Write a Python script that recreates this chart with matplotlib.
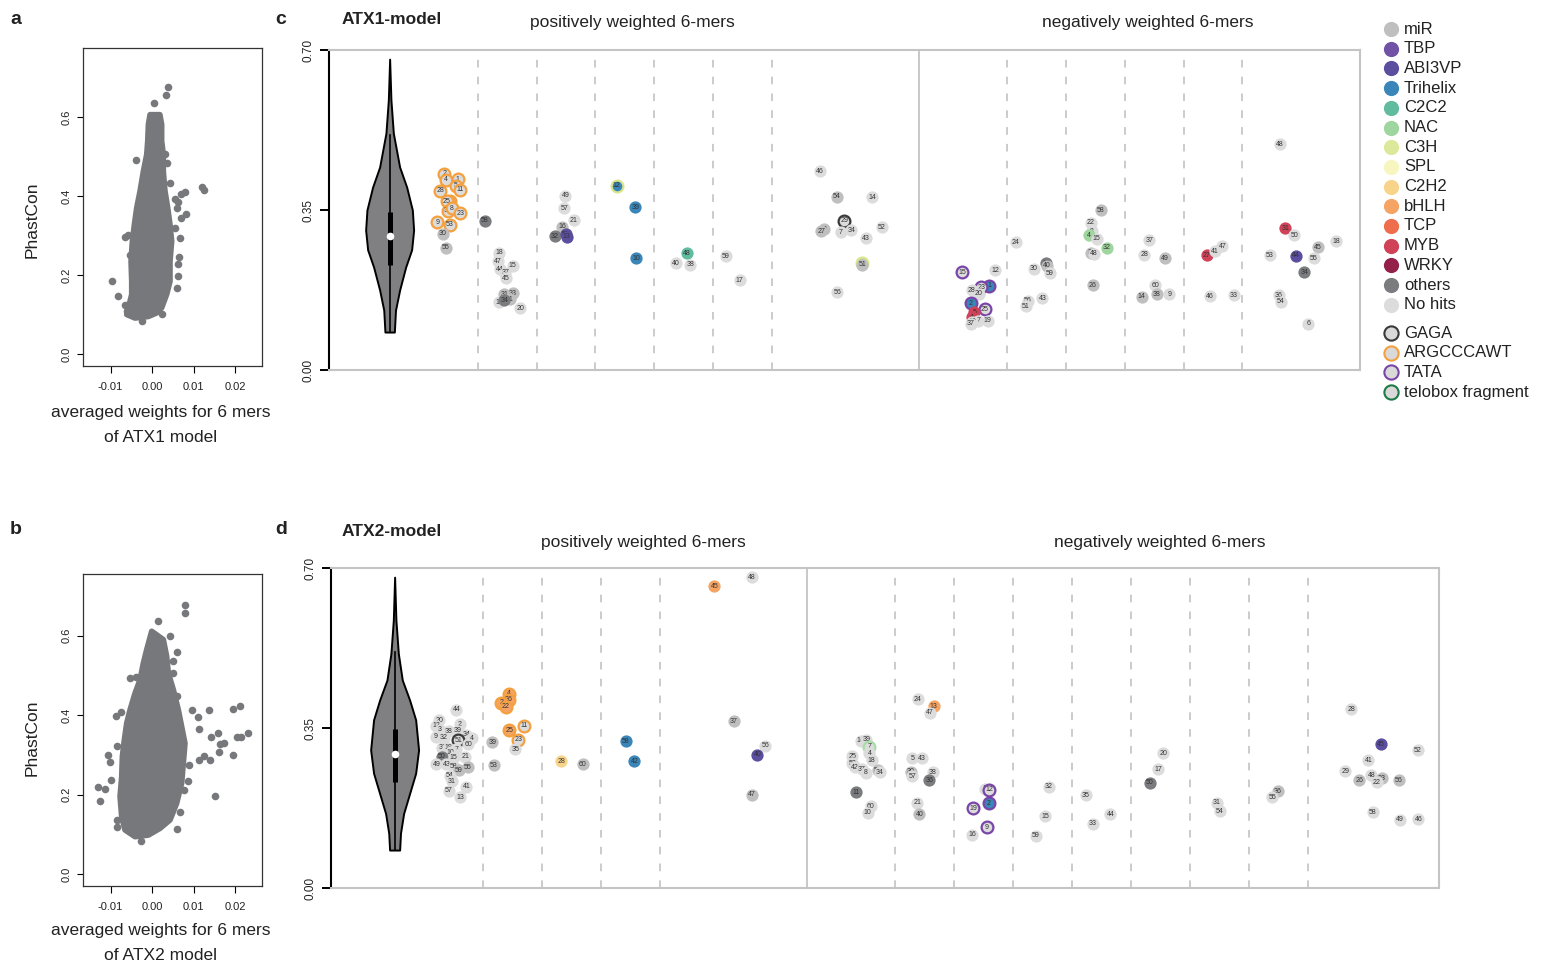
import matplotlib
matplotlib.use("Agg")
import matplotlib.pyplot as plt

plt.rcParams["font.family"] = ["Liberation Sans", "DejaVu Sans"]

W, H = 1541, 968
TXT = "#222222"
DOT = "#77787B"

# ---------------- panels a / b : weight vs PhastCon
# dense core outline (weight, phastcon) read off the cloud, plus the outlying 6-mers
a_core_w = [-0.00048, -0.00088, -0.00104, -0.00128, -0.00209, -0.00289, -0.00369, -0.00426,
            -0.00474, -0.00506, -0.0049, -0.0049, -0.0057, -0.0061, -0.0041, -0.00088,
            0.00112, 0.00233, 0.00353, 0.00434, 0.00434, 0.00474, 0.00434, 0.00378,
            0.00313, 0.00273, 0.00273, 0.00233, 0.00233, 0.0019]
a_core_p = [0.607, 0.582, 0.540, 0.506, 0.463, 0.413, 0.371, 0.328,
            0.286, 0.235, 0.184, 0.151, 0.117, 0.100, 0.091, 0.095,
            0.104, 0.117, 0.151, 0.184, 0.235, 0.286, 0.328, 0.371,
            0.413, 0.463, 0.506, 0.540, 0.582, 0.607]
a_out_w = [0.00378, 0.00329, 0.00056, -0.00394, 0.01197, 0.01261, 0.00795, 0.00699, 0.00554,
           0.00635, 0.00594, 0.00811, 0.00699, 0.00554, 0.00675, -0.00651, -0.00586, -0.00956,
           -0.00827, -0.00651, -0.00249, 0.00249, 0.00594, 0.00618, 0.00635, 0.00659, 0.00434,
           0.00353, 0.00313, -0.0053, -0.0061]
a_out_p = [0.678, 0.656, 0.637, 0.493, 0.423, 0.415, 0.411, 0.406, 0.392,
           0.385, 0.371, 0.354, 0.345, 0.320, 0.294, 0.296, 0.303, 0.184,
           0.148, 0.125, 0.083, 0.102, 0.168, 0.197, 0.227, 0.245, 0.434,
           0.485, 0.506, 0.252, 0.108]

b_core_w = [-0.00008, -0.00128, -0.00209, -0.00289, -0.0041, -0.0053, -0.0061, -0.00667,
            -0.00715, -0.00731, -0.00771, -0.00731, -0.00651, -0.0041, -0.00088, 0.00193,
            0.00434, 0.00594, 0.00715, 0.00755, 0.00795, 0.00715, 0.00635, 0.00514,
            0.00394, 0.00353, 0.00273]
b_core_p = [0.611, 0.565, 0.531, 0.489, 0.455, 0.413, 0.380, 0.338,
            0.296, 0.245, 0.195, 0.144, 0.111, 0.094, 0.098, 0.115,
            0.136, 0.178, 0.229, 0.279, 0.329, 0.371, 0.413, 0.464,
            0.506, 0.548, 0.590]
b_out_w = [0.00795, 0.00795, 0.00137, 0.00434, 0.00594, 0.00514, 0.00514, -0.0053, -0.00394,
           -0.00747, -0.00876, 0.00972, 0.0110, 0.01382, 0.01944, 0.0212, 0.00594, 0.0114,
           0.01422, 0.01582, 0.01639, 0.01743, 0.0204, 0.02145, 0.02305, 0.01622, 0.01944,
           0.01261, 0.01398, 0.01133, 0.0090, 0.01518, -0.01068, -0.01012, -0.00851, -0.01293,
           -0.01133, -0.01245, -0.00988, -0.00851, -0.00851, -0.00265, 0.00594, 0.00675,
           0.00876, 0.00779]
b_out_p = [0.678, 0.657, 0.636, 0.598, 0.560, 0.535, 0.506, 0.493, 0.495,
           0.409, 0.397, 0.412, 0.394, 0.412, 0.416, 0.424, 0.447, 0.365,
           0.346, 0.355, 0.328, 0.329, 0.346, 0.345, 0.356, 0.306, 0.300,
           0.297, 0.287, 0.286, 0.275, 0.197, 0.300, 0.281, 0.321, 0.218,
           0.213, 0.185, 0.237, 0.136, 0.118, 0.084, 0.114, 0.157,
           0.233, 0.212]

# ---------------- categories
cat_names = ["miR", "TBP", "ABI3VP", "Trihelix", "C2C2", "NAC", "C3H", "SPL",
             "C2H2", "bHLH", "TCP", "MYB", "WRKY", "others", "No hits"]
cat_colors = ["#BFBFBF", "#7152A5", "#5B4E9F", "#3A86B8", "#61BB9F", "#9FD59F",
              "#DCE99A", "#F7F6BF", "#F7D48A", "#F5A463", "#EE6D4C", "#CF4258",
              "#93204A", "#7B7C7F", "#DCDCDC"]
ring_names = ["GAGA", "ARGCCCAWT", "TATA", "telobox fragment"]
ring_colors = ["#3A3A3A", "#F4A03E", "#7A45A8", "#1E7B45"]

fill_of = dict(zip(cat_names, cat_colors))
fill_of["no"] = fill_of["No hits"]
fill_of["oth"] = fill_of["others"]
edge_of = {"G": ring_colors[0], "A": ring_colors[1], "T": ring_colors[2],
           "L": ring_colors[3], "C": "#D8E58A", "N": "#A8DDA8"}

# ---------------- panel c (ATX1 model)
c_num = [2, 4, 1, 5, 11, 28, 26, 25, 36, 8, 23, 9, 53, 30, 55,
         58, 18, 47, 15, 44, 37, 45, 31, 33, 41, 19, 34, 20,
         49, 57, 21, 16, 32, 59, 13,
         12, 39, 10,
         48, 40, 38,
         59, 17,
         46, 54, 14, 29, 42, 27, 7, 34, 52, 43, 35, 51, 56,
         15, 12, 1, 23, 28, 20, 2, 25, 5, 4, 7, 19, 10, 37,
         24, 30, 13, 40, 59, 56, 51, 43,
         58, 22, 8, 4, 15, 32, 36, 48, 26,
         37, 28, 49, 60, 38, 9, 14,
         27, 41, 47, 46, 33,
         48, 31, 50, 18, 45, 53, 44, 55, 34, 36, 54, 6]
c_pos = [1.93, 1.95, 2.16, 2.13, 2.20, 1.86, 2.02, 1.97, 1.99, 2.06, 2.20, 1.81, 2.02, 1.90, 1.96,
         2.62, 2.86, 2.84, 3.09, 2.88, 2.97, 2.98, 2.95, 3.09, 3.05, 2.86, 2.95, 3.22,
         3.99, 3.97, 4.13, 3.93, 3.81, 4.00, 4.01,
         4.86, 5.18, 5.19,
         6.05, 5.87, 6.11,
         6.72, 6.95,
         8.31, 8.60, 9.21, 8.73, 8.38, 8.34, 8.67, 8.85, 9.37, 9.10, 9.04, 9.04, 8.61,
         10.74, 11.30, 11.19, 11.06, 10.90, 11.02, 10.88, 11.12, 10.94, 10.90, 11.01, 11.17, 10.90, 10.88,
         11.65, 11.95, 12.16, 12.18, 12.23, 11.85, 11.82, 12.10,
         13.09, 12.92, 12.94, 12.89, 13.02, 13.20, 12.93, 12.98, 12.96,
         13.92, 13.83, 14.18, 14.02, 14.05, 14.26, 13.79,
         14.89, 15.03, 15.16, 14.95, 15.36,
         16.14, 16.23, 16.38, 17.10, 16.79, 15.97, 16.41, 16.71, 16.55, 16.12, 16.15, 16.62]
c_phast = [0.429, 0.416, 0.417, 0.403, 0.394, 0.392, 0.370, 0.369, 0.348, 0.354, 0.343, 0.323, 0.318, 0.298, 0.267,
           0.326, 0.257, 0.238, 0.228, 0.220, 0.213, 0.201, 0.166, 0.168, 0.155, 0.148, 0.153, 0.135,
           0.381, 0.354, 0.328, 0.313, 0.293, 0.297, 0.291,
           0.403, 0.356, 0.245,
           0.255, 0.233, 0.230,
           0.249, 0.196,
           0.435, 0.379, 0.378, 0.327, 0.308, 0.304, 0.301, 0.306, 0.312, 0.288, 0.233, 0.230, 0.170,
           0.214, 0.218, 0.184, 0.181, 0.175, 0.167, 0.146, 0.133, 0.126, 0.115, 0.108, 0.108, 0.106, 0.101,
           0.279, 0.222, 0.233, 0.228, 0.212, 0.151, 0.140, 0.157,
           0.349, 0.322, 0.303, 0.295, 0.287, 0.267, 0.256, 0.254, 0.185,
           0.284, 0.252, 0.244, 0.185, 0.166, 0.166, 0.160,
           0.251, 0.260, 0.271, 0.161, 0.163,
           0.494, 0.310, 0.295, 0.282, 0.268, 0.251, 0.250, 0.244, 0.214, 0.163, 0.149, 0.101]
c_fill = ["no", "no", "no", "no", "no", "no", "bHLH", "no", "no", "no", "no", "no", "no", "miR", "miR",
          "oth", "no", "no", "no", "no", "no", "no", "miR", "miR", "miR", "no", "oth", "no",
          "no", "no", "no", "miR", "oth", "ABI3VP", "ABI3VP",
          "Trihelix", "Trihelix", "Trihelix",
          "C2C2", "no", "no",
          "no", "no",
          "no", "miR", "no", "no", "miR", "miR", "no", "no", "no", "no", "miR", "miR", "no",
          "no", "no", "Trihelix", "no", "no", "no", "Trihelix", "no", "MYB", "MYB", "no", "no", "no", "no",
          "no", "no", "oth", "miR", "no", "no", "no", "no",
          "miR", "no", "no", "NAC", "no", "NAC", "miR", "no", "miR",
          "no", "no", "miR", "no", "miR", "no", "miR",
          "MYB", "no", "no", "no", "no",
          "no", "MYB", "no", "no", "miR", "no", "ABI3VP", "no", "oth", "no", "no", "no"]
c_ring = ["A"] * 13 + ["", ""] + [""] * 13 + [""] * 7 + ["C", "", ""] + [""] * 3 + [""] * 2 + \
         ["", "", "", "G", "", "", "", "", "", "", "C", "", ""] + \
         ["T", "", "T", "T", "", "", "T", "T", "", "", "", "", "", ""] + \
         [""] * 8 + [""] * 9 + [""] * 7 + [""] * 5 + [""] * 12

# ---------------- panel d (ATX2 model)
d_num = [44, 20, 12, 2, 3, 38, 39, 34, 4, 9, 32, 51, 60, 33, 19, 7, 10, 50, 15, 21,
         49, 43, 58, 59, 55, 54, 31, 41, 57, 13,
         39, 53, 4, 26, 2, 22, 25, 11, 23, 35,
         28, 60,
         58, 42,
         45, 48, 37, 56, 40, 47,
         14, 39, 7, 4, 18, 25, 53, 42, 37, 8, 54, 34, 11, 60, 10,
         24, 13, 47, 5, 43, 38, 30, 57, 36, 21, 40,
         1, 12, 2, 19, 9, 16,
         32, 15, 59,
         35, 33, 44,
         20, 17, 50,
         31, 54,
         36, 55,
         28, 45, 52, 41, 29, 48, 23, 22, 26, 56, 58, 49, 46]
d_pos = [2.05, 1.76, 1.71, 2.11, 1.77, 1.92, 2.07, 2.22, 2.31, 1.70, 1.84, 2.08, 2.25, 1.81, 1.91,
         2.05, 1.95, 1.80, 2.00, 2.20, 1.71, 1.88, 2.00, 2.09, 2.24, 1.94, 1.97, 2.22, 1.92, 2.11,
         2.66, 2.68, 2.94, 2.94, 2.81, 2.89, 2.95, 3.19, 3.10, 3.05,
         3.83, 4.19,
         4.92, 5.07,
         6.43, 7.06, 6.76, 7.29, 7.16, 7.06,
         8.91, 9.01, 9.06, 9.06, 9.10, 8.77, 8.77, 8.82, 8.93, 9.00, 9.20, 9.24, 8.83, 9.08, 9.03,
         9.88, 10.15, 10.09, 9.79, 9.95, 10.14, 9.76, 9.79, 10.08, 9.87, 9.91,
         11.02, 11.09, 11.09, 10.82, 11.05, 10.81,
         12.11, 12.04, 11.89,
         12.73, 12.85, 13.15,
         14.05, 13.96, 13.82,
         14.96, 15.01,
         15.99, 15.90,
         17.24, 17.74, 18.37, 17.53, 17.14, 17.58, 17.76, 17.67, 17.38, 18.05, 17.61, 18.07, 18.38]
d_phast = [0.390, 0.367, 0.355, 0.358, 0.346, 0.343, 0.344, 0.335, 0.328, 0.331, 0.329, 0.323, 0.315,
           0.307, 0.307, 0.303, 0.297, 0.287, 0.286, 0.287, 0.271, 0.271, 0.265, 0.258, 0.264,
           0.246, 0.233, 0.222, 0.213, 0.198,
           0.319, 0.268, 0.425, 0.412, 0.405, 0.397, 0.345, 0.355, 0.324, 0.303,
           0.277, 0.271,
           0.321, 0.277,
           0.660, 0.680, 0.365, 0.311, 0.292, 0.204,
           0.322, 0.324, 0.309, 0.295, 0.279, 0.288, 0.273, 0.264, 0.260, 0.252, 0.258, 0.253, 0.209, 0.179, 0.165,
           0.413, 0.398, 0.383, 0.284, 0.284, 0.253, 0.254, 0.245, 0.236, 0.187, 0.161,
           0.217, 0.215, 0.185, 0.174, 0.133, 0.117,
           0.222, 0.157, 0.114,
           0.203, 0.141, 0.161,
           0.295, 0.260, 0.230,
           0.187, 0.168,
           0.212, 0.198,
           0.391, 0.314, 0.301, 0.280, 0.255, 0.247, 0.240, 0.231, 0.236, 0.236, 0.166, 0.149, 0.150]
d_fill = ["no"] * 17 + ["oth", "no", "no", "no", "no", "no", "miR", "miR", "no", "no", "no", "no", "no"] + \
         ["miR", "miR", "bHLH", "bHLH", "bHLH", "bHLH", "bHLH", "no", "no", "no"] + \
         ["C2H2", "miR"] + ["Trihelix", "Trihelix"] + \
         ["bHLH", "no", "miR", "no", "ABI3VP", "miR"] + \
         ["no"] * 10 + ["miR", "no", "oth", "no", "no"] + \
         ["no", "bHLH", "no", "no", "no", "no", "miR", "no", "oth", "no", "miR"] + \
         ["no", "no", "Trihelix", "no", "no", "no"] + \
         ["no"] * 3 + ["no"] * 3 + ["no", "no", "oth"] + ["no", "no"] + ["miR", "no"] + \
         ["no", "ABI3VP", "no", "no", "no", "no", "miR", "no", "miR", "miR", "no", "no", "no"]
d_ring = [""] * 11 + ["G"] + [""] * 18 + \
         ["", "", "A", "A", "A", "A", "A", "A", "A", ""] + [""] * 2 + [""] * 2 + [""] * 6 + \
         ["", "", "N"] + [""] * 12 + [""] * 11 + \
         ["", "T", "T", "T", "T", ""] + [""] * 3 + [""] * 3 + [""] * 3 + [""] * 2 + [""] * 2 + [""] * 13

# ---------------- violins (phastcon level, half width) + box summary
c_vio_p = [0.680, 0.591, 0.518, 0.444, 0.400, 0.350, 0.306, 0.263, 0.225, 0.175, 0.131, 0.083]
c_vio_w = [0.0, 0.022, 0.063, 0.17, 0.29, 0.386, 0.408, 0.374, 0.272, 0.17, 0.10, 0.08]
c_box = [0.083, 0.230, 0.293, 0.346, 0.514]   # whisker lo, q1, median, q3, whisker hi
d_vio_p = [0.680, 0.586, 0.513, 0.455, 0.411, 0.368, 0.302, 0.251, 0.207, 0.163, 0.120, 0.083]
d_vio_w = [0.0, 0.022, 0.063, 0.13, 0.255, 0.357, 0.407, 0.357, 0.255, 0.153, 0.10, 0.085]
d_box = [0.083, 0.231, 0.294, 0.347, 0.516]

c_dash = [2.5, 3.5, 4.5, 5.5, 6.5, 7.5, 11.5, 12.5, 13.5, 14.5, 15.5]
c_split = 10.0
d_dash = [2.5, 3.5, 4.5, 5.5, 9.5, 10.5, 11.5, 12.5, 13.5, 14.5, 15.5, 16.5]
d_split = 8.0


def px_axes(fig, left, top, right, bottom):
    return fig.add_axes([left / W, (H - bottom) / H, (right - left) / W, (bottom - top) / H])


def scatter_panel(ax, core_w, core_p, out_w, out_p, ylim):
    ax.fill(core_w, core_p, color=DOT, ec=DOT, lw=4, joinstyle="round", zorder=2)
    ax.scatter(out_w, out_p, s=30, color=DOT, lw=0, zorder=3)
    ax.set_xlim(-0.01663, 0.0265)
    ax.set_ylim(*ylim)
    ax.set_xticks([-0.01, 0.0, 0.01, 0.02])
    ax.set_xticklabels(["-0.01", "0.00", "0.01", "0.02"], fontsize=8, color=TXT)
    ax.set_yticks([0.0, 0.2, 0.4, 0.6])
    ax.set_yticklabels(["0.0", "0.2", "0.4", "0.6"], fontsize=8, rotation=90,
                       va="center", color=TXT)
    ax.tick_params(axis="x", length=5, width=0.8, pad=6.5)
    ax.tick_params(axis="y", length=4.5, width=0.8, pad=3.5)
    for s in ax.spines.values():
        s.set_linewidth(0.9)
        s.set_color("#333333")


def mer_panel(ax, xlim, dash, split, dash_top, vio_p, vio_w, box, num, pos, phast, fill, ring):
    ax.set_xlim(*xlim)
    ax.set_ylim(0, 0.70)
    for x in dash:
        ax.axvline(x, ymin=0, ymax=dash_top, color="#BDBDBD", lw=1.1,
                   ls=(0, (5, 6)), zorder=1)
    ax.axvline(split, color="#C4C4C4", lw=1.3, zorder=1)
    for k in ["top", "right", "bottom"]:
        ax.spines[k].set_color("#C4C4C4")
        ax.spines[k].set_linewidth(1.5)
    ax.spines["left"].set_color("black")
    ax.spines["left"].set_linewidth(1.5)
    ax.set_xticks([])
    ax.set_yticks([0.0, 0.35, 0.70])
    ax.set_yticklabels(["0.00", "0.35", "0.70"], fontsize=8.5, rotation=90,
                       va="center", color=TXT)
    ax.tick_params(axis="y", length=6.5, width=1.4, pad=4)

    # violin
    xs_l = [1.0 - w for w in vio_w]
    xs_r = [1.0 + w for w in vio_w]
    ax.fill_betweenx(vio_p, xs_l, xs_r, color="#808082", ec="black", lw=1.4, zorder=3)
    ax.plot([1.0, 1.0], [box[0], box[4]], color="black", lw=1.2, zorder=4)
    ax.plot([1.0, 1.0], [box[1], box[3]], color="black", lw=3.6,
            solid_capstyle="butt", zorder=5)
    ax.scatter([1.0], [box[2]], s=30, color="white", lw=0, zorder=6)

    z = 10
    for n, x, y, f, r in zip(num, pos, phast, fill, ring):
        if r:
            ax.scatter([x], [y], s=72, color=fill_of[f], ec=edge_of[r], lw=1.6, zorder=z)
        else:
            ax.scatter([x], [y], s=78, color=fill_of[f], lw=0, zorder=z)
        ax.text(x, y, str(n), fontsize=5.0, ha="center", va="center",
                color="#333333", zorder=z + 1)
        z += 2


fig = plt.figure(figsize=(W / 100, H / 100), dpi=100)

ax_a = px_axes(fig, 83, 48, 262, 366)
scatter_panel(ax_a, a_core_w, a_core_p, a_out_w, a_out_p, (-0.0305, 0.776))
ax_b = px_axes(fig, 83, 574, 262, 886)
scatter_panel(ax_b, b_core_w, b_core_p, b_out_w, b_out_p, (-0.030, 0.755))

ax_c = px_axes(fig, 329, 50, 1360, 370)
mer_panel(ax_c, (-0.031, 17.50), c_dash, c_split, 0.984, c_vio_p, c_vio_w, c_box,
          c_num, c_pos, c_phast, c_fill, c_ring)
ax_d = px_axes(fig, 331, 568, 1439, 888)
mer_panel(ax_d, (-0.08, 18.73), d_dash, d_split, 0.972, d_vio_p, d_vio_w, d_box,
          d_num, d_pos, d_phast, d_fill, d_ring)

# overlay for panel letters, titles and legend
ov = fig.add_axes([0, 0, 1, 1])
ov.set_xlim(0, W)
ov.set_ylim(H, 0)
ov.axis("off")

for lab, x, y in [("a", 16, 20), ("b", 16, 530), ("c", 281, 19), ("d", 281, 530)]:
    ov.text(x, y, lab, fontsize=14, fontweight="bold", ha="center", va="center", color=TXT)
ov.text(342, 19, "ATX1-model", fontsize=12.5, fontweight="bold", va="center", color=TXT)
ov.text(342, 531, "ATX2-model", fontsize=12.5, fontweight="bold", va="center", color=TXT)
ov.text(632, 23, "positively weighted 6-mers", fontsize=12.5, ha="center", va="center", color=TXT)
ov.text(1148, 23, "negatively weighted 6-mers", fontsize=12.5, ha="center", va="center", color=TXT)
ov.text(643, 542, "positively weighted 6-mers", fontsize=12.5, ha="center", va="center", color=TXT)
ov.text(1160, 542, "negatively weighted 6-mers", fontsize=12.5, ha="center", va="center", color=TXT)

for yc in [220, 738]:
    ov.text(32, yc, "PhastCon", fontsize=12.5, rotation=90, ha="center", va="center", color=TXT)
ov.text(161, 413, "averaged weights for 6 mers", fontsize=12.5, ha="center", va="center", color=TXT)
ov.text(161, 438, "of ATX1 model", fontsize=12.5, ha="center", va="center", color=TXT)
ov.text(161, 931, "averaged weights for 6 mers", fontsize=12.5, ha="center", va="center", color=TXT)
ov.text(161, 955, "of ATX2 model", fontsize=12.5, ha="center", va="center", color=TXT)

step = 19.7
for i, (name, col) in enumerate(zip(cat_names, cat_colors)):
    y = 29 + i * step
    ov.scatter([1391], [y], s=120, color=col, lw=0)
    ov.text(1404, y, name, fontsize=12, va="center", color=TXT)
for i, (name, col) in enumerate(zip(ring_names, ring_colors)):
    y = 333 + i * step
    ov.scatter([1391], [y], s=105, color="#D9D9D9", ec=col, lw=1.5)
    ov.text(1404, y, name, fontsize=12, va="center", color=TXT)

fig.savefig("out.png", dpi=100)
